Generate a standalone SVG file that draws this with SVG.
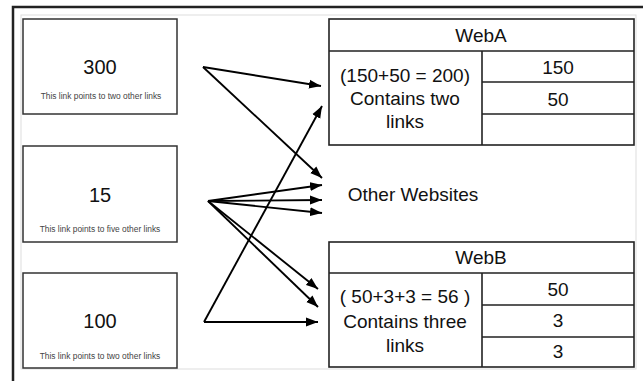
<svg xmlns="http://www.w3.org/2000/svg" width="643" height="381" viewBox="0 0 643 381">
<style>
.box{fill:#fff;stroke:#333;stroke-width:1.5}
.tbl{fill:none;stroke:#222;stroke-width:1.6}
.num{font-family:"Liberation Sans",Arial,sans-serif;font-size:20px;fill:#111;text-anchor:middle}
.small{font-family:"Liberation Sans",Arial,sans-serif;font-size:8.4px;fill:#444;text-anchor:middle}
.t{font-family:"Liberation Sans",Arial,sans-serif;font-size:19px;fill:#111;text-anchor:middle}
.conn line{stroke:#000;stroke-width:1.9;marker-end:url(#ah)}
</style>
<defs>
<marker id="ah" markerUnits="userSpaceOnUse" markerWidth="13" markerHeight="10" refX="12" refY="5" orient="auto">
<path d="M0,0.5 L12,5 L0,9.5 Z" fill="#000"/>
</marker>
</defs>
<rect x="0" y="0" width="643" height="381" fill="#fff"/>
<path d="M13,381 V7 H643" fill="none" stroke="#222" stroke-width="2.5"/>
<rect x="21" y="15" width="615" height="354" fill="none" stroke="#ddd" stroke-width="1"/>
<g id="node300">
<rect class="box" x="23" y="19" width="154" height="95"/>
<text class="num" x="100" y="74">300</text>
<text class="small" x="101" y="99">This link points to two other links</text>
</g>
<g id="node15">
<rect class="box" x="23" y="146" width="154" height="96"/>
<text class="num" x="100" y="202">15</text>
<text class="small" x="100" y="232">This link points to five other links</text>
</g>
<g id="node100">
<rect class="box" x="23" y="273" width="154" height="95"/>
<text class="num" x="100" y="328">100</text>
<text class="small" x="100" y="359">This link points to two other links</text>
</g>
<g id="webA">
<rect class="tbl" x="329" y="19" width="305" height="126"/>
<path class="tbl" d="M329,51 H634 M482,51 V145 M482,82 H634 M482,114 H634"/>
<text class="t" x="481" y="42">WebA</text>
<text class="t" x="405" y="82">(150+50 = 200)</text>
<text class="t" x="405" y="105">Contains two</text>
<text class="t" x="405" y="128">links</text>
<text class="t" x="558" y="74">150</text>
<text class="t" x="558" y="106">50</text>
</g>
<g id="other">
<text class="t" x="413" y="201">Other Websites</text>
</g>
<g id="webB">
<rect class="tbl" x="329" y="242" width="305" height="125"/>
<path class="tbl" d="M329,273 H634 M482,273 V367 M482,305 H634 M482,337 H634"/>
<text class="t" x="481" y="264">WebB</text>
<text class="t" x="405" y="303">( 50+3+3 = 56 )</text>
<text class="t" x="405" y="328">Contains three</text>
<text class="t" x="405" y="352">links</text>
<text class="t" x="558" y="296">50</text>
<text class="t" x="558" y="327">3</text>
<text class="t" x="558" y="358">3</text>
</g>
<g id="connectors" class="conn">
<line x1="203" y1="67" x2="321" y2="86"/>
<line x1="203" y1="67" x2="322" y2="178"/>
<line x1="208" y1="201" x2="322" y2="185"/>
<line x1="208" y1="201" x2="322" y2="200"/>
<line x1="208" y1="201" x2="322" y2="213"/>
<line x1="208" y1="201" x2="318" y2="289"/>
<line x1="208" y1="201" x2="318" y2="307"/>
<line x1="204" y1="322" x2="318" y2="322"/>
<line x1="204" y1="322" x2="322" y2="106"/>
</g>
</svg>
